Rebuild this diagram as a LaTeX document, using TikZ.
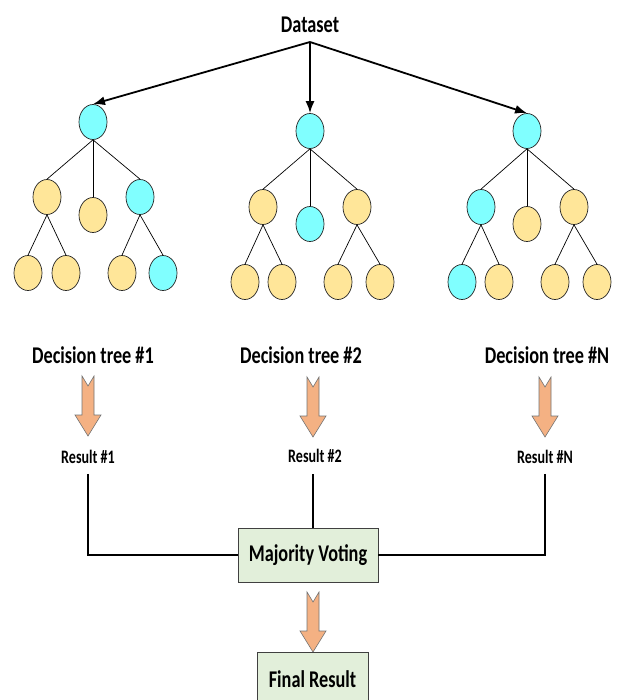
\documentclass[tikz,border=0pt]{standalone}
\usepackage{fontspec}
\setmainfont{Carlito}
\newfontfamily\narrowfont[FakeStretch=0.76]{Carlito}
\newfontfamily\narrowerfont[FakeStretch=0.74]{Carlito}
\usetikzlibrary{shapes.geometric,arrows.meta}
\definecolor{nodecyan}{HTML}{80FFFF}
\definecolor{nodeyellow}{HTML}{FFE699}
\definecolor{boxgreen}{HTML}{E2EFDA}
\definecolor{arrowfill}{HTML}{F4B183}
\newcommand\mybigblockarrow[2]{%
  \path[blk] (#1-6,#2) -- (#1,#2+10) -- (#1+6,#2) -- (#1+6,#2+39) -- (#1+13,#2+39)
    -- (#1,#2+60) -- (#1-13,#2+39) -- (#1-6,#2+39) -- cycle;}
\begin{document}
\begin{tikzpicture}[x=1pt,y=-1pt,
  tn/.style={ellipse, draw=black!85, line width=0.7pt, minimum width=28pt, minimum height=35pt, inner sep=0pt},
  cy/.style={tn, fill=nodecyan},
  ye/.style={tn, fill=nodeyellow},
  edge/.style={line width=0.7pt},
  bigarrow/.style={line width=1.8pt, -{Latex[length=12pt,width=9pt]}},
  title/.style={font=\narrowfont\bfseries\fontsize{24}{26}\selectfont, inner sep=0pt},
  res/.style={font=\narrowerfont\bfseries\fontsize{19}{21}\selectfont, inner sep=0pt},
  box/.style={draw=black!75, line width=0.9pt, fill=boxgreen, font=\narrowfont\bfseries\fontsize{24}{26}\selectfont, inner sep=0pt},
  conn/.style={line width=1.8pt},
  blk/.style={fill=arrowfill, draw=black!55, line width=0.6pt}
]
\useasboundingbox (0,0) rectangle (616,700);
\clip (0,0) rectangle (616,700);

% Dataset
\node[title] (ds) at (310,25) {Dataset};
\coordinate (split) at (310,42);

% Tree 1
\node[cy] (t1r) at (93,122) {};
\node[ye] (t1a) at (47,197) {};
\node[ye] (t1b) at (93,215) {};
\node[cy] (t1c) at (140,197) {};
\node[ye] (t1a1) at (28,273) {};
\node[ye] (t1a2) at (66,273) {};
\node[ye] (t1c1) at (122,273) {};
\node[cy] (t1c2) at (163,273) {};

% Tree 2
\node[cy] (t2r) at (310,131) {};
\node[ye] (t2a) at (263,207) {};
\node[cy] (t2b) at (310,224) {};
\node[ye] (t2c) at (357,207) {};
\node[ye] (t2a1) at (245,282) {};
\node[ye] (t2a2) at (282,282) {};
\node[ye] (t2c1) at (338,282) {};
\node[ye] (t2c2) at (380,282) {};

% Tree N
\node[cy] (t3r) at (527,131) {};
\node[cy] (t3a) at (481,207) {};
\node[ye] (t3b) at (527,224) {};
\node[ye] (t3c) at (574,207) {};
\node[cy] (t3a1) at (462,282) {};
\node[ye] (t3a2) at (499,282) {};
\node[ye] (t3c1) at (555,282) {};
\node[ye] (t3c2) at (597,282) {};

\foreach \t in {1,2,3}{
  \draw[edge] (t\t r.south) -- (t\t a.north);
  \draw[edge] (t\t r.south) -- (t\t b.north);
  \draw[edge] (t\t r.south) -- (t\t c.north);
  \draw[edge] (t\t a.south) -- (t\t a1.north);
  \draw[edge] (t\t a.south) -- (t\t a2.north);
  \draw[edge] (t\t c.south) -- (t\t c1.north);
  \draw[edge] (t\t c.south) -- (t\t c2.north);
}

\draw[bigarrow] (split) -- (t1r.north);
\draw[bigarrow] (split) -- (t2r.north);
\draw[bigarrow] (split) -- (t3r.north);

% Labels
\node[title] (d1) at (93,355) {Decision tree \#1};
\node[title] (d2) at (301,355) {Decision tree \#2};
\node[title] (dN) at (547,355) {Decision tree \#N};

% Block arrows
\mybigblockarrow{88}{376}
\mybigblockarrow{313}{377}
\mybigblockarrow{545}{377}

% Results
\node[res] (r1) at (88,457) {Result \#1};
\node[res] (r2) at (315,456) {Result \#2};
\node[res] (rN) at (545,457) {Result \#N};

% Majority voting
\node[box, minimum width=140pt, minimum height=54pt] (mv) at (308,555) {Majority Voting};
\coordinate (r2b) at (313,474);

\draw[conn] ([yshift=-10pt]r1.south) |- (mv.west);
\draw[conn] ([yshift=-10pt]rN.south) |- (mv.east);
\draw[conn] (r2b) -- (r2b |- mv.north);

% Bottom arrow and final
\mybigblockarrow{313}{592}
\node[box, minimum width=111pt, minimum height=54pt] (fr) at (312.5,679) {Final Result};
\end{tikzpicture}
\end{document}
